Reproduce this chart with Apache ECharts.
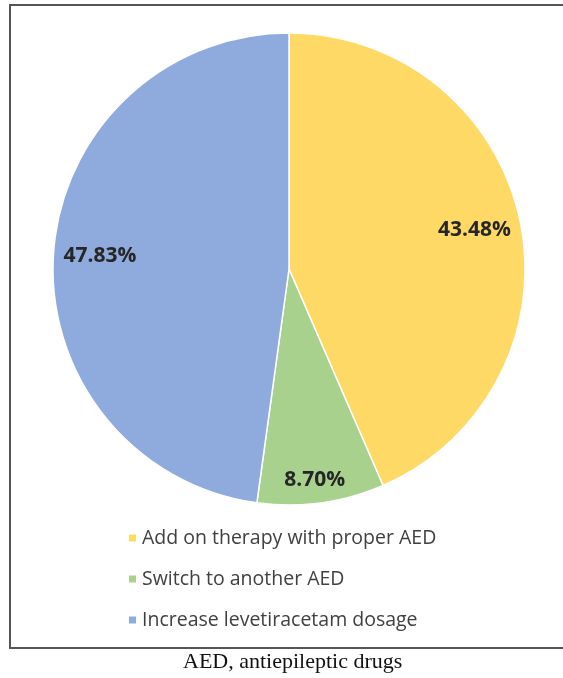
<!DOCTYPE html>
<html>
<head>
<meta charset="utf-8">
<script src="https://cdn.jsdelivr.net/npm/echarts@6/dist/echarts.min.js"></script>
<style>
  html, body { margin: 0; padding: 0; background: #fff; }
  #chart { width: 563px; height: 678px; }
</style>
</head>
<body>
<div id="chart"></div>
<script>
// Management options after levetiracetam failure (percent of patients)
const categories = [
  'Add on therapy with proper AED',
  'Switch to another AED',
  'Increase levetiracetam dosage'
];
const shares = [43.48, 8.70, 47.83];
const colors = ['#FFD966', '#A9D18E', '#8FAADC'];
const caption = 'AED, antiepileptic drugs';

const pieCenter = [289, 269];
const pieRadius = 236;

const chart = echarts.init(document.getElementById('chart'), null, { renderer: 'canvas' });

const sliceData = categories.map((name, i) => ({
  name,
  value: shares[i],
  itemStyle: { color: colors[i] }
}));

// Transparent ring that carries the percentage labels further out than the pie midpoint
const labelData = categories.map((name, i) => ({
  name,
  value: shares[i],
  label: i === 1 ? { offset: [0, 23] } : {}
}));

chart.setOption({
  animation: false,
  legend: {
    orient: 'vertical',
    left: 122,
    top: 522,
    icon: 'rect',
    itemWidth: 9,
    itemHeight: 9,
    itemGap: 19,
    data: categories,
    textStyle: {
      fontFamily: 'Open Sans',
      fontSize: 19.5,
      lineHeight: 22,
      color: '#404040'
    }
  },
  graphic: [
    {
      type: 'rect',
      shape: { x: 10, y: 5, width: 600, height: 643 },
      style: { fill: 'none', stroke: '#555', lineWidth: 2 },
      silent: true
    },
    {
      type: 'text',
      left: 183,
      top: 651,
      style: {
        text: caption,
        font: '22px "Liberation Serif"',
        fill: '#111'
      }
    }
  ],
  series: [
    {
      type: 'pie',
      center: pieCenter,
      radius: pieRadius,
      startAngle: 90,
      clockwise: true,
      label: { show: false },
      labelLine: { show: false },
      itemStyle: { borderColor: '#fff', borderWidth: 1.5 },
      emphasis: { disabled: true },
      data: sliceData
    },
    {
      type: 'pie',
      center: pieCenter,
      radius: [pieRadius * 0.58, pieRadius],
      startAngle: 90,
      clockwise: true,
      silent: true,
      itemStyle: { color: 'rgba(0,0,0,0)' },
      emphasis: { disabled: true },
      label: {
        show: true,
        position: 'inside',
        formatter: p => p.value.toFixed(2) + '%',
        fontFamily: 'Open Sans',
        fontWeight: 'bold',
        fontSize: 21,
        color: '#262626'
      },
      labelLine: { show: false },
      data: labelData
    }
  ]
});
</script>
</body>
</html>
